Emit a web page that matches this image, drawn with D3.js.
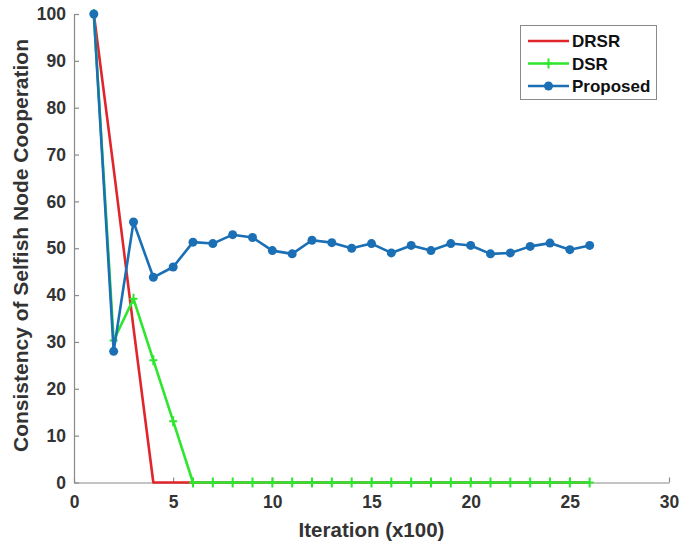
<!DOCTYPE html>
<html>
<head>
<meta charset="utf-8">
<script src="https://cdn.jsdelivr.net/npm/d3@7"></script>
<style>
  html, body { margin: 0; padding: 0; background: #fff; }
  svg { display: block; }
  text { font-family: "Liberation Sans", Arial, sans-serif; font-weight: bold; }
</style>
</head>
<body>
<svg id="chart" width="680" height="544"></svg>
<script>
// Iterations (x100)
const iterations = d3.range(1, 27);

// Consistency of selfish node cooperation per scheme
const drsrValues = [100, 67, 33, 0, 0, 0, 0, 0, 0, 0, 0, 0, 0, 0, 0, 0, 0, 0, 0, 0, 0, 0, 0, 0, 0, 0];
const dsrValues = [100, 30.3, 39.2, 26.1, 13.1, 0, 0, 0, 0, 0, 0, 0, 0, 0, 0, 0, 0, 0, 0, 0, 0, 0, 0, 0, 0, 0];
const proposedValues = [100, 28.0, 55.6, 43.8, 46.0, 51.3, 51.0, 52.9, 52.3, 49.5, 48.8, 51.7, 51.2, 50.0,
                        51.0, 49.0, 50.6, 49.5, 51.0, 50.6, 48.8, 49.0, 50.4, 51.1, 49.7, 50.6];

const seriesNames = ["DRSR", "DSR", "Proposed"];
const xTicks = [0, 5, 10, 15, 20, 25, 30];
const yTicks = [0, 10, 20, 30, 40, 50, 60, 70, 80, 90, 100];

const colors = { DRSR: "#e0252b", DSR: "#2ee62e", Proposed: "#1a6fb5" };

const svg = d3.select("#chart");
const plotLeft = 74, plotRight = 669, plotTop = 14, plotBottom = 482.5;

const x = d3.scaleLinear().domain([0, 30]).range([plotLeft, plotRight]);
const y = d3.scaleLinear().domain([0, 100]).range([plotBottom, plotTop]);

const axisColor = "#8a8a8a";
const labelColor = "#333";

// Axes (ticks point inward)
const xAxis = svg.append("g")
  .attr("transform", `translate(0,${plotBottom})`)
  .call(d3.axisBottom(x).tickValues(xTicks).tickSizeInner(-5).tickSizeOuter(0).tickPadding(13));
const yAxis = svg.append("g")
  .attr("transform", `translate(${plotLeft},0)`)
  .call(d3.axisLeft(y).tickValues(yTicks).tickSizeInner(-5).tickSizeOuter(0).tickPadding(8));

[xAxis, yAxis].forEach(g => {
  g.select(".domain").attr("stroke", axisColor).attr("stroke-width", 1.2);
  g.selectAll(".tick line").attr("stroke", axisColor).attr("stroke-width", 1.2);
  g.selectAll(".tick text").attr("fill", labelColor).style("font-size", "17.5px")
    .style("font-family", "'Liberation Sans', Arial, sans-serif").style("font-weight", "bold");
});
xAxis.selectAll(".tick text").attr("dy", "0.71em");

// Axis titles
svg.append("text")
  .attr("x", 371.5).attr("y", 537)
  .attr("text-anchor", "middle").attr("fill", labelColor)
  .style("font-size", "20.5px")
  .text("Iteration (x100)");

svg.append("text")
  .attr("transform", "translate(28,245.5) rotate(-90)")
  .attr("text-anchor", "middle").attr("fill", labelColor)
  .style("font-size", "21px")
  .text("Consistency of Selfish Node Cooperation");

const line = d3.line().x(d => x(d[0])).y(d => y(d[1]));
const pairs = vals => iterations.map((it, i) => [it, vals[i]]);

const plot = svg.append("g");

// DRSR: plain line
plot.append("path").datum(pairs(drsrValues))
  .attr("d", line).attr("fill", "none")
  .attr("stroke", colors.DRSR).attr("stroke-width", 2.6).attr("stroke-linejoin", "round");

// DSR: line with plus markers
const dsr = pairs(dsrValues);
plot.append("path").datum(dsr)
  .attr("d", line).attr("fill", "none")
  .attr("stroke", colors.DSR).attr("stroke-width", 2.6).attr("stroke-linejoin", "round");
plot.append("g").selectAll("path").data(dsr).join("path")
  .attr("d", d => `M${x(d[0]) - 4},${y(d[1])}H${x(d[0]) + 4}M${x(d[0])},${y(d[1]) - 5}V${y(d[1]) + 5}`)
  .attr("stroke", colors.DSR).attr("stroke-width", 2);

// Proposed: line with filled circle markers
const proposed = pairs(proposedValues);
plot.append("path").datum(proposed)
  .attr("d", line).attr("fill", "none")
  .attr("stroke", colors.Proposed).attr("stroke-width", 2.6).attr("stroke-linejoin", "round");
plot.append("g").selectAll("circle").data(proposed).join("circle")
  .attr("cx", d => x(d[0])).attr("cy", d => y(d[1])).attr("r", 4.5)
  .attr("fill", colors.Proposed);

// Legend
const legend = svg.append("g");
legend.append("rect")
  .attr("x", 520.5).attr("y", 25.5).attr("width", 136).attr("height", 74)
  .attr("fill", "#fff").attr("stroke", "#8a8a8a").attr("stroke-width", 1);

const rowY = [41, 63.5, 86];
seriesNames.forEach((name, i) => {
  const g = legend.append("g").attr("transform", `translate(0,${rowY[i]})`);
  g.append("line").attr("x1", 528).attr("x2", 569).attr("y1", 0).attr("y2", 0)
    .attr("stroke", colors[name]).attr("stroke-width", 2.6);
  if (name === "DSR") {
    g.append("path").attr("d", "M544.5,0H552.5M548.5,-5V5")
      .attr("stroke", colors[name]).attr("stroke-width", 2);
  }
  if (name === "Proposed") {
    g.append("circle").attr("cx", 548.5).attr("cy", 0).attr("r", 4.5).attr("fill", colors[name]);
  }
  g.append("text").attr("x", 572).attr("y", 0).attr("dy", "0.36em")
    .attr("fill", "#111").style("font-size", "17px").text(name);
});
</script>
</body>
</html>
